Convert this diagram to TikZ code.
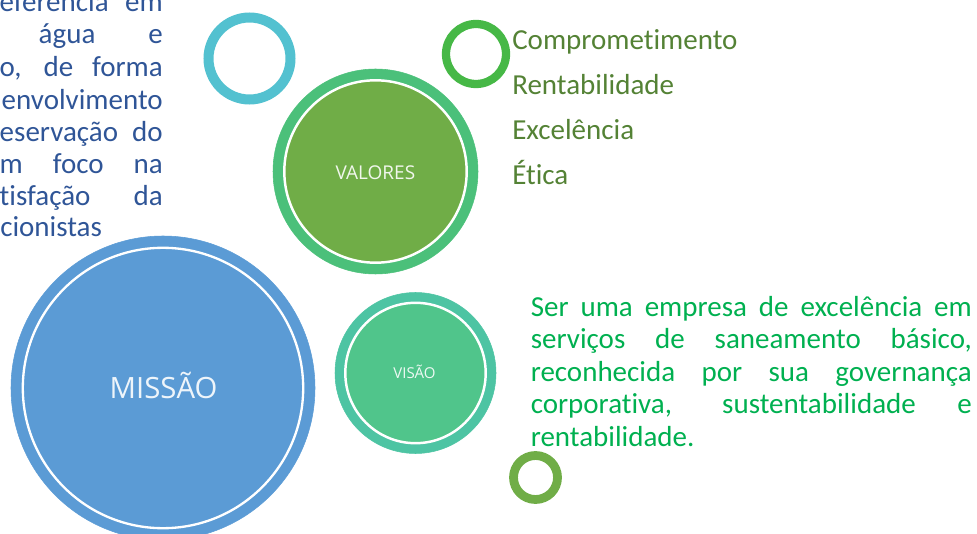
\documentclass[tikz,border=0pt]{standalone}
\usepackage{fontspec}
\setmainfont{Carlito}[Ligatures=NoCommon]
\newfontfamily\circfont{Open Sans}
\usepackage{color}
\usepackage{xcolor}
\usepackage{tikz}

\begin{document}
\begin{tikzpicture}[x=0.75pt,y=0.75pt,yscale=-1,xscale=1,
	bodytext/.style={inner sep=0pt,font=\fontsize{21.75}{26}\selectfont},
	circlabel/.style={inner sep=0pt,text=white,text opacity=0.9}]
			\useasboundingbox (0,0) rectangle (977,534);
			\clip (0,0) rectangle (977,534);
			
			%Shape: Circle [missão]
			\draw  [color={rgb, 255:red, 91; green, 155; blue, 213 }  ,fill={rgb, 255:red, 91; green, 155; blue, 213 }  ,fill opacity=1 ] (163,388) circle (152) ;
			\draw  [color={rgb, 255:red, 255; green, 255; blue, 255 }  ,line width=1.75 ] (163,388) circle (140.2) ;
			%Shape: Circle [valores]
			\draw  [color={rgb, 255:red, 75; green, 192; blue, 122 }  ,fill={rgb, 255:red, 75; green, 192; blue, 122 }  ,fill opacity=1 ] (375.5,171.5) circle (102.5) ;
			\draw  [color={rgb, 255:red, 255; green, 255; blue, 255 }  ,fill={rgb, 255:red, 112; green, 173; blue, 71 }  ,line width=1.85 ] (375.5,171.5) circle (91.2) ;
			%Shape: Circle [visão]
			\draw  [color={rgb, 255:red, 77; green, 196; blue, 163 }  ,fill={rgb, 255:red, 77; green, 196; blue, 163 }  ,fill opacity=1 ] (415.5,373) circle (80.5) ;
			\draw  [color={rgb, 255:red, 255; green, 255; blue, 255 }  ,fill={rgb, 255:red, 80; green, 197; blue, 139 }  ,line width=1.85 ] (415.5,373) circle (70.2) ;
			%Shape: Ring [cyan]
			\draw  [color={rgb, 255:red, 83; green, 193; blue, 208 }  ,line width=7.5 ] (249.5,58.5) circle (41) ;
			%Shape: Ring [green, top]
			\draw  [color={rgb, 255:red, 70; green, 184; blue, 70 }  ,line width=6.2 ] (476,54) circle (30) ;
			%Shape: Ring [green, bottom]
			\draw  [color={rgb, 255:red, 112; green, 173; blue, 71 }  ,line width=6.6 ] (535.5,477.5) circle (22) ;
			
			% Text Node
			\draw (163.5,398.3) node [anchor=base][circlabel]  (lblmissao) {\circfont\fontsize{22}{26}\selectfont MISSÃO};
			% Text Node
			\draw (375.4,179.3) node [anchor=base][circlabel]  (lblvalores) {\circfont\fontsize{14.25}{17}\selectfont VALORES};
			% Text Node
			\draw (414.5,378) node [anchor=base][circlabel]  (lblvisao) {\circfont\fontsize{11.25}{14}\selectfont VISÃO};
			
			% Text Node
			\draw (163,12) node [anchor=base east][bodytext, text={rgb, 255:red, 47; green, 85; blue, 151 }]  (missao1) {\makebox[122.25pt][s]{eferência em}};
			% Text Node
			\draw (163,44) node [anchor=base east][bodytext, text={rgb, 255:red, 47; green, 85; blue, 151 }]  (missao2) {\makebox[93pt][s]{água e}};
			% Text Node
			\draw (163,77) node [anchor=base east][bodytext, text={rgb, 255:red, 47; green, 85; blue, 151 }]  (missao3) {\makebox[122.25pt][s]{o, de forma}};
			% Text Node
			\draw (163,110) node [anchor=base east][bodytext, text={rgb, 255:red, 47; green, 85; blue, 151 }]  (missao4) {envolvimento};
			% Text Node
			\draw (163,142) node [anchor=base east][bodytext, text={rgb, 255:red, 47; green, 85; blue, 151 }]  (missao5) {\makebox[122.25pt][s]{eservação do}};
			% Text Node
			\draw (163,174) node [anchor=base east][bodytext, text={rgb, 255:red, 47; green, 85; blue, 151 }]  (missao6) {\makebox[122.25pt][s]{m foco na}};
			% Text Node
			\draw (163,205.5) node [anchor=base east][bodytext, text={rgb, 255:red, 47; green, 85; blue, 151 }]  (missao7) {\makebox[122.25pt][s]{tisfação da}};
			% Text Node
			\draw (0,237) node [anchor=base west][bodytext, text={rgb, 255:red, 47; green, 85; blue, 151 }]  (missao8) {cionistas};
			
			% Text Node
			\draw (512,50) node [anchor=base west][bodytext, text={rgb, 255:red, 84; green, 130; blue, 53 }]  (valor1) {Comprometimento};
			% Text Node
			\draw (512,95) node [anchor=base west][bodytext, text={rgb, 255:red, 84; green, 130; blue, 53 }]  (valor2) {Rentabilidade};
			% Text Node
			\draw (512,140) node [anchor=base west][bodytext, text={rgb, 255:red, 84; green, 130; blue, 53 }]  (valor3) {Excelência};
			% Text Node
			\draw (512,185) node [anchor=base west][bodytext, text={rgb, 255:red, 84; green, 130; blue, 53 }]  (valor4) {Ética};
			
			% Text Node
			\draw (530.5,316) node [anchor=base west][bodytext, text={rgb, 255:red, 0; green, 176; blue, 80 }]  (visao1) {\makebox[330.75pt][s]{Ser uma empresa de excelência em}};
			% Text Node
			\draw (530.5,348.5) node [anchor=base west][bodytext, text={rgb, 255:red, 0; green, 176; blue, 80 }]  (visao2) {\makebox[330.75pt][s]{serviços de saneamento básico,}};
			% Text Node
			\draw (530.5,381) node [anchor=base west][bodytext, text={rgb, 255:red, 0; green, 176; blue, 80 }]  (visao3) {\makebox[330.75pt][s]{reconhecida por sua governança}};
			% Text Node
			\draw (530.5,413.5) node [anchor=base west][bodytext, text={rgb, 255:red, 0; green, 176; blue, 80 }]  (visao4) {\makebox[330.75pt][s]{corporativa, sustentabilidade e}};
			% Text Node
			\draw (530.5,446) node [anchor=base west][bodytext, text={rgb, 255:red, 0; green, 176; blue, 80 }]  (visao5) {rentabilidade.};
			
\end{tikzpicture}
\end{document}
